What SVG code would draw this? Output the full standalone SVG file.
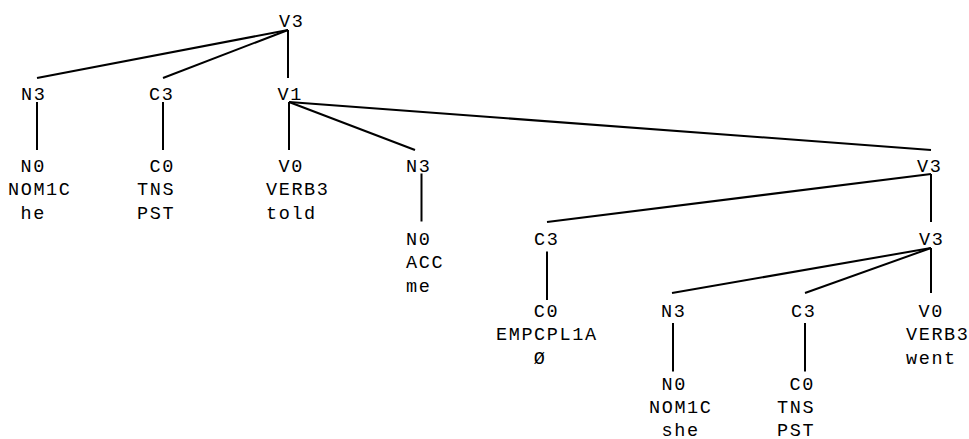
<svg xmlns="http://www.w3.org/2000/svg" width="969" height="439" viewBox="0 0 969 439">
<style>
text{font-family:"Liberation Mono","DejaVu Sans Mono",monospace;font-size:18.5px;letter-spacing:1.6px;fill:#000}
.e line{stroke:#000;stroke-width:2;stroke-linecap:butt}
</style>
<rect width="969" height="439" fill="#fff"/>
<g class="e" id="connectors">
<line x1="288" y1="30" x2="37" y2="78"/>
<line x1="288" y1="30" x2="163" y2="78"/>
<line x1="288" y1="30" x2="288" y2="78"/>
<line x1="37" y1="102" x2="37" y2="150"/>
<line x1="163" y1="102" x2="163" y2="150"/>
<line x1="289" y1="102" x2="289" y2="150"/>
<line x1="289" y1="102" x2="415" y2="150"/>
<line x1="289" y1="102" x2="931" y2="150"/>
<line x1="421.5" y1="173.5" x2="421.5" y2="221.5"/>
<line x1="931" y1="174" x2="547" y2="222"/>
<line x1="931" y1="174" x2="931" y2="222"/>
<line x1="547" y1="251.5" x2="547" y2="300"/>
<line x1="931" y1="248" x2="672" y2="293"/>
<line x1="931" y1="248" x2="805" y2="293"/>
<line x1="931" y1="248" x2="931" y2="293"/>
<line x1="673" y1="323" x2="673" y2="371.5"/>
<line x1="805" y1="323" x2="805" y2="371.5"/>
</g>
<g id="v3-root"><text x="279" y="27">V3</text></g>
<g id="n3-a"><text x="21" y="100">N3</text></g>
<g id="c3-a"><text x="149" y="100">C3</text></g>
<g id="v1"><text x="277.5" y="100">V1</text></g>
<g id="n0-a"><text x="20.6" y="172">N0</text><text x="8" y="195.3">NOM1C</text><text x="20.6" y="218.6">he</text></g>
<g id="c0-a"><text x="149.6" y="172">C0</text><text x="137" y="195.3">TNS</text><text x="137" y="218.6">PST</text></g>
<g id="v0-a"><text x="278.6" y="172">V0</text><text x="266" y="195.3">VERB3</text><text x="266" y="218.6">told</text></g>
<g id="n3-b"><text x="406" y="172">N3</text></g>
<g id="n0-b"><text x="406" y="245">N0</text><text x="406" y="268.3">ACC</text><text x="406" y="291.6">me</text></g>
<g id="v3-b"><text x="917" y="172">V3</text></g>
<g id="c3-b"><text x="534" y="245">C3</text></g>
<g id="c0-b"><text x="533.8" y="317">C0</text><text x="496" y="340.3">EMPCPL1A</text><text x="533.8" y="363.6">Ø</text></g>
<g id="v3-c"><text x="919" y="245">V3</text></g>
<g id="n3-c"><text x="661" y="317">N3</text></g>
<g id="c3-c"><text x="791" y="317">C3</text></g>
<g id="v0-c"><text x="918.6" y="317">V0</text><text x="906" y="340.3">VERB3</text><text x="906" y="363.6">went</text></g>
<g id="n0-c"><text x="661.6" y="390">N0</text><text x="649" y="413.3">NOM1C</text><text x="661.6" y="436.3">she</text></g>
<g id="c0-c"><text x="789.6" y="390">C0</text><text x="777" y="413.3">TNS</text><text x="777" y="436.3">PST</text></g>
</svg>
